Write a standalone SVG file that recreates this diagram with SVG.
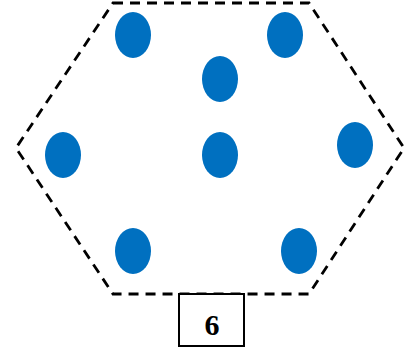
<svg xmlns="http://www.w3.org/2000/svg" width="411" height="356" viewBox="0 0 411 356">
<style>
.dot{fill:#0070C0}
.hex{fill:none;stroke:#000;stroke-width:2.8;stroke-dasharray:10,7}
.box{fill:#fff;stroke:#000;stroke-width:2}
.lbl{font-family:"Liberation Serif",serif;font-weight:bold;font-size:30px;text-anchor:middle}
</style>
<rect width="411" height="356" fill="#fff"/>
<g id="hexagon"><polygon class="hex" points="113,3 309,3 404,148 309,294 113,294 16,148"/></g>
<g id="dots">
<ellipse class="dot" cx="133" cy="35" rx="18" ry="23"/>
<ellipse class="dot" cx="285" cy="35" rx="18" ry="23"/>
<ellipse class="dot" cx="220" cy="79" rx="18" ry="23"/>
<ellipse class="dot" cx="63" cy="155" rx="18" ry="23"/>
<ellipse class="dot" cx="220" cy="155" rx="18" ry="23"/>
<ellipse class="dot" cx="355" cy="145" rx="18" ry="23"/>
<ellipse class="dot" cx="133" cy="251" rx="18" ry="23"/>
<ellipse class="dot" cx="299" cy="251" rx="18" ry="23"/>
</g>
<g id="label"><rect class="box" x="179" y="294" width="65" height="52"/><text class="lbl" x="212" y="335">6</text></g>
</svg>
